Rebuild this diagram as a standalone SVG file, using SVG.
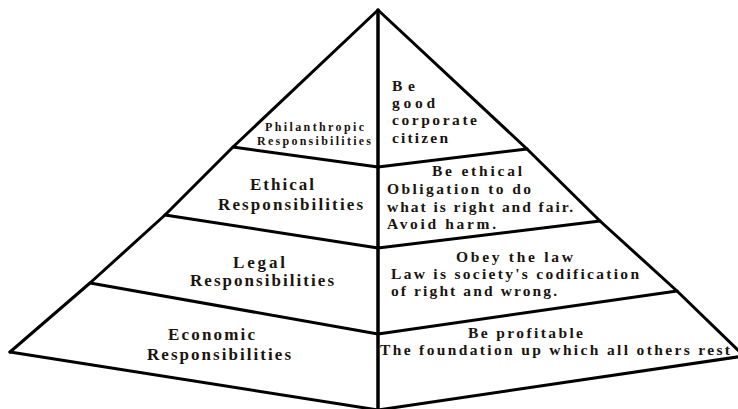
<svg xmlns="http://www.w3.org/2000/svg" width="738" height="409" viewBox="0 0 738 409">
<style>
.ln{fill:none;stroke:#000;stroke-width:3;stroke-linejoin:round;stroke-linecap:round}
.tx{fill:#1a1410}
</style>
<rect width="738" height="409" fill="#fff"/>
<g id="connectors">
<polyline class="ln" points="10,352 90,283 165,215 233,147 378,10 527,149 600,221 677,291 744,356"/>
<line class="ln" x1="378" y1="10" x2="378" y2="412" style="stroke-width:3.5"/>
<polyline class="ln" points="233,147 378,167 527,149"/>
<polyline class="ln" points="165,215 378,248 600,221"/>
<polyline class="ln" points="90,283 378,334 677,291"/>
<polyline class="ln" points="10,352 378,410 744,356"/>
</g>
<g id="philanthropic" class="tx" font-family="Liberation Serif, serif" font-weight="bold" font-size="15.5">
<text x="265" y="131" font-size="12" textLength="99">Philanthropic</text>
<text x="257" y="145" font-size="12" textLength="114">Responsibilities</text>
<text x="392" y="91" textLength="23">Be</text>
<text x="392" y="108" textLength="43">good</text>
<text x="392" y="125" textLength="85">corporate</text>
<text x="392" y="143" textLength="56">citizen</text>
</g>
<g id="ethical" class="tx" font-family="Liberation Serif, serif" font-weight="bold" font-size="15.5">
<text x="250" y="190" font-size="17" textLength="64">Ethical</text>
<text x="218" y="210" font-size="17" textLength="145">Responsibilities</text>
<text x="432" y="176" textLength="90">Be ethical</text>
<text x="387" y="194" textLength="144">Obligation to do</text>
<text x="387" y="212" textLength="186">what is right and fair.</text>
<text x="387" y="229" textLength="109">Avoid harm.</text>
</g>
<g id="legal" class="tx" font-family="Liberation Serif, serif" font-weight="bold" font-size="15.5">
<text x="233" y="268" font-size="17" textLength="52">Legal</text>
<text x="190" y="286" font-size="17" textLength="144">Responsibilities</text>
<text x="456" y="262" textLength="117">Obey the law</text>
<text x="391" y="279" textLength="248">Law is society's codification</text>
<text x="391" y="296" textLength="166">of right and wrong.</text>
</g>
<g id="economic" class="tx" font-family="Liberation Serif, serif" font-weight="bold" font-size="15.5">
<text x="168" y="340" font-size="17" textLength="87">Economic</text>
<text x="147" y="360" font-size="17" textLength="144">Responsibilities</text>
<text x="468" y="338" textLength="115">Be profitable</text>
<text x="380" y="355" textLength="350">The foundation up which all others rest</text>
</g>
</svg>
